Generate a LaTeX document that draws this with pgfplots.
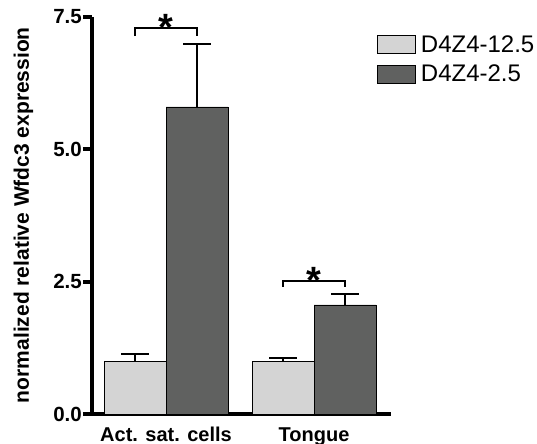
\documentclass[border=0pt]{standalone}
\usepackage{pgfplots}
\pgfplotsset{compat=1.18}
\usepackage{fontspec}
\setmainfont{Liberation Sans}

\definecolor{lightbar}{RGB}{212,212,212}
\definecolor{darkbar}{RGB}{96,97,96}

\begin{document}
\begin{tikzpicture}
% page = 537 x 444, axis box lower-left at pixel (92,414)
\useasboundingbox (-92bp,-30bp) rectangle (445bp,414bp);
\begin{axis}[
    at={(0,0)}, anchor=south west,
    scale only axis,
    width=299bp, height=397bp,
    xmin=-0.5, xmax=1.52,
    ymin=0, ymax=7.5,
    axis x line*=bottom,
    axis y line*=left,
    axis line style={line width=4bp, -},
    xtick={0,1},
    xticklabels={Act. sat. cells, Tongue},
    x tick style={draw=none},
    xticklabel style={anchor=base, yshift=-18bp, font=\bfseries\fontsize{20bp}{24bp}\selectfont},
    ytick={0,2.5,5,7.5},
    y tick style={line width=4bp, black},
    tick align=outside,
    major tick length=9bp,
    yticklabel style={font=\bfseries\fontsize{20.5bp}{25bp}\selectfont, inner sep=1bp,
        /pgf/number format/.cd, fixed, fixed zerofill, precision=1, assume math mode=true},
    ylabel={normalized relative Wfdc3 expression},
    every axis y label/.style={at={(axis description cs:-0.211,0.501)}, anchor=base, rotate=90,
        font=\bfseries\fontsize{21bp}{25bp}\selectfont},
    ybar=0pt,
    bar width=62bp,
    clip=false,
    error bars/y dir=plus,
    error bars/y explicit,
    error bars/error bar style={line width=2bp, black},
    error bars/error mark options={line width=2bp, black, mark size=14bp, rotate=90},
    legend style={draw=none, fill=none, at={(axis description cs:0.953,0.955)}, anchor=north west,
        inner sep=0pt, row sep=11bp, font=\fontsize{24bp}{29bp}\selectfont,
        nodes={inner sep=0pt},
        /tikz/every odd column/.append style={column sep=5bp}},
    legend cell align=left,
]
\addplot[fill=lightbar, draw=black, line width=0.8bp,
    legend image code/.code={\draw[fill=lightbar, draw=black, line width=0.8bp] (0bp,-9bp) rectangle (38bp,9bp);}]
    coordinates {(0,1.00) +- (0,0.13) (1,1.00) +- (0,0.05)};
\addlegendentry{D4Z4-12.5}
\addplot[fill=darkbar, draw=black, line width=0.8bp,
    legend image code/.code={\draw[fill=darkbar, draw=black, line width=0.8bp] (0bp,-9bp) rectangle (38bp,9bp);}]
    coordinates {(0,5.80) +- (0,1.19) (1,2.06) +- (0,0.21)};
\addlegendentry{D4Z4-2.5}

% significance brackets
\draw[line width=2bp] (axis cs:-0.2095,7.14) -- (axis cs:-0.2095,7.29) -- (axis cs:0.2095,7.29) -- (axis cs:0.2095,7.14);
\node[anchor=base, inner sep=0pt, font=\bfseries\fontsize{38bp}{38bp}\selectfont] at (axis cs:0,7.05) {*};
\draw[line width=2bp] (axis cs:0.7905,2.40) -- (axis cs:0.7905,2.51) -- (axis cs:1.2095,2.51) -- (axis cs:1.2095,2.40);
\node[anchor=base, inner sep=0pt, font=\bfseries\fontsize{38bp}{38bp}\selectfont] at (axis cs:1,2.27) {*};
\end{axis}
\end{tikzpicture}
\end{document}
